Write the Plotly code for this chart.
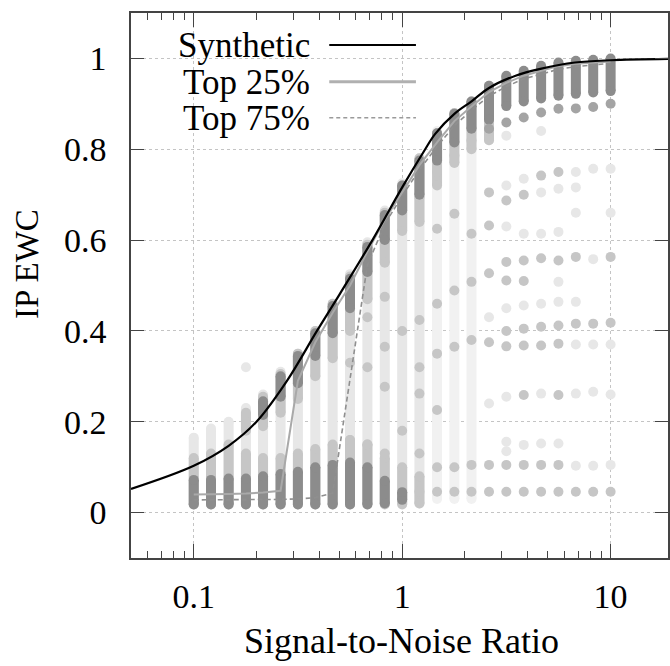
import math
import plotly.graph_objects as go

# ---------------- data ----------------
SNR = [0.1, 0.121, 0.147, 0.178, 0.215, 0.261, 0.316, 0.383, 0.464, 0.562, 0.681, 0.825,
       1.0, 1.21, 1.47, 1.78, 2.15, 2.61, 3.16, 3.83, 4.64, 5.62, 6.81, 8.25, 10.0]

SYN_X = [0.05, 0.1, 0.147, 0.2, 0.28, 0.39, 0.5, 0.72, 1.0, 1.27, 1.44, 1.78, 2.16, 2.61,
         3.5, 4.6, 6.75, 10.0, 20.0]
SYN_Y = [0.052, 0.103, 0.147, 0.200, 0.290, 0.400, 0.480, 0.600, 0.716, 0.795, 0.834, 0.878,
         0.906, 0.935, 0.962, 0.977, 0.991, 0.996, 0.999]

TOP25 = [0.040, 0.040, 0.041, 0.042, 0.044, 0.048, 0.290, 0.375, 0.440, 0.500, 0.575, 0.645,
         0.705, 0.765, 0.815, 0.862, 0.894, 0.926, 0.946, 0.962, 0.973, 0.983, 0.988, 0.991, 0.993]
TOP75 = [0.028, 0.028, 0.028, 0.028, 0.028, 0.029, 0.030, 0.033, 0.043, 0.290, 0.545, 0.635,
         0.697, 0.755, 0.806, 0.852, 0.886, 0.917, 0.938, 0.955, 0.966, 0.976, 0.982, 0.986, 0.989]

# extent of all trial results per SNR column (faint body)
BODY_LO = [0.02, 0.02, 0.02, 0.02, 0.02, 0.02, 0.02, 0.02, 0.02, 0.02, 0.02, 0.02, 0.02, 0.02,
           None, None, None, None, None, None, None, None, None, None, None]
BODY_HI = [0.165, 0.185, 0.20, 0.23, 0.26, 0.31, 0.35, 0.40, 0.46, 0.525, 0.595, 0.665, 0.725, 0.78,
           None, None, None, None, None, None, None, None, None, None, None]
SPARSE_LO = [None] * 14 + [0.03, 0.03, 0.03] + [None] * 8
SPARSE_HI = [None] * 14 + [0.84, 0.88, 0.905] + [None] * 8

# lower cluster (failed recoveries)
LOW_DARK_LO = [0.018, 0.018, 0.018, 0.018, 0.018, 0.018, 0.018, 0.018, 0.018, 0.018, 0.018, 0.02, 0.028,
               None, None, None, None, None, None, None, None, None, None, None, None]
LOW_DARK_HI = [0.072, 0.072, 0.075, 0.075, 0.08, 0.085, 0.09, 0.10, 0.105, 0.11, 0.10, 0.07, 0.045,
               None, None, None, None, None, None, None, None, None, None, None, None]
LOW_MID_LO = [0.018, 0.018, 0.018, 0.018, 0.018, 0.018, 0.018, 0.018, 0.018, 0.018, 0.018, 0.018, 0.018, 0.02,
              None, None, None, None, None, None, None, None, None, None, None]
LOW_MID_HI = [0.12, 0.13, 0.15, 0.13, 0.12, 0.12, 0.13, 0.14, 0.15, 0.16, 0.15, 0.12, 0.10, 0.08,
              None, None, None, None, None, None, None, None, None, None, None]

# upper cluster (successful recoveries)
UP_MID_LO = [None, None, None, 0.18, 0.19, 0.22, 0.25, 0.30, 0.34, 0.40, 0.47, 0.55, 0.62, 0.64,
             0.72, 0.77, 0.80, 0.82, None, None, None, None, None, None, None]
UP_MID_HI = [None, None, None, 0.22, 0.255, 0.305, 0.35, 0.40, 0.46, 0.52, 0.59, 0.66, 0.72, 0.78,
             0.835, 0.88, 0.905, 0.94, None, None, None, None, None, None, None]
UP_DARK_LO = [None, None, None, None, 0.215, 0.255, 0.285, 0.345, 0.395, 0.45, 0.53, 0.60, 0.665, 0.70,
              0.775, 0.815, 0.845, 0.865, 0.895, 0.905, 0.912, 0.918, 0.922, 0.925, 0.928]
UP_DARK_HI = [None, None, None, None, 0.245, 0.30, 0.345, 0.395, 0.455, 0.515, 0.585, 0.655, 0.72, 0.775,
              0.835, 0.878, 0.905, 0.94, 0.962, 0.973, 0.984, 0.991, 0.995, 0.997, 1.0]

# isolated trial results (column index, value)
DOT_DARK_K = [17, 18, 19, 20, 21, 22, 23, 24]
DOT_DARK_Y = [0.845, 0.859, 0.87, 0.881, 0.889, 0.89, 0.893, 0.90]

DOT_MID_K = [9, 9, 9, 10, 10, 10, 11, 11, 11, 11, 12, 12,
             13, 13, 13, 13, 13, 13, 14, 14, 14, 14, 14, 14, 14,
             15, 15, 15, 15, 15, 15, 16, 16, 16, 16, 16, 16,
             17, 17, 17, 17, 17, 17,
             18, 18, 18, 18, 18, 18, 18,
             19, 19, 19, 19, 19, 19, 19, 19,
             20, 20, 20, 20, 20, 20,
             21, 21, 21, 21, 21, 21, 21,
             22, 22, 22, 23, 23, 24, 24, 24]
DOT_MID_Y = [0.42, 0.33, 0.16, 0.43, 0.32, 0.15, 0.475, 0.365, 0.277, 0.13, 0.40, 0.18,
             0.695, 0.424, 0.32, 0.262, 0.13, 0.046, 0.75, 0.625, 0.46, 0.35, 0.226, 0.10, 0.046,
             0.786, 0.658, 0.489, 0.365, 0.10, 0.046, 0.819, 0.614, 0.508, 0.38, 0.105, 0.046,
             0.705, 0.632, 0.527, 0.375, 0.105, 0.046,
             0.687, 0.552, 0.511, 0.40, 0.366, 0.105, 0.046,
             0.70, 0.555, 0.51, 0.405, 0.368, 0.259, 0.105, 0.046,
             0.742, 0.56, 0.409, 0.368, 0.105, 0.046,
             0.75, 0.555, 0.412, 0.372, 0.259, 0.105, 0.046,
             0.563, 0.416, 0.046, 0.416, 0.046, 0.563, 0.418, 0.046]

DOT_LIGHT_K = [3, 17, 17, 17, 18, 18, 18, 18, 18, 18, 18, 19, 19, 19, 19,
               20, 20, 20, 20, 20, 20, 21, 21, 21, 21, 21,
               22, 22, 22, 22, 22, 22, 22, 23, 23, 23, 23, 23, 24, 24, 24, 24, 24]
DOT_LIGHT_Y = [0.32, 0.82, 0.43, 0.24, 0.83, 0.72, 0.63, 0.45, 0.255, 0.156, 0.135, 0.735, 0.614, 0.456, 0.149,
               0.84, 0.705, 0.614, 0.46, 0.262, 0.152, 0.713, 0.618, 0.508, 0.464, 0.152,
               0.75, 0.716, 0.66, 0.464, 0.37, 0.262, 0.103, 0.757, 0.558, 0.37, 0.266, 0.103,
               0.757, 0.66, 0.37, 0.26, 0.105]

X_TICKS = [0.1, 1, 10]
X_TICK_TEXT = ["0.1", "1", "10"]
X_MINOR = [0.06, 0.07, 0.08, 0.09, 0.2, 0.3, 0.4, 0.5, 0.6, 0.7, 0.8, 0.9,
           2, 3, 4, 5, 6, 7, 8, 9]
Y_TICKS = [0, 0.2, 0.4, 0.6, 0.8, 1]
Y_TICK_TEXT = ["0", "0.2", "0.4", "0.6", "0.8", "1"]

LEGEND_NAMES = ["Synthetic", "Top 25%", "Top 75%"]

# ---------------- style ----------------
FONT = "Liberation Serif, Times New Roman, serif"
DARK = "#8c8c8c"
MID = "#c6c6c6"
LIGHT = "#e7e7e7"
SPARSE = "#f1f1f1"
MSIZE = 10

fig = go.Figure()


def band(los, his, color):
    xs, ys = [], []
    for x, lo, hi in zip(SNR, los, his):
        if lo is None or hi is None:
            continue
        xs += [x, x, None]
        ys += [lo, hi, None]
    fig.add_trace(go.Scatter(x=xs, y=ys, mode="lines+markers",
                             line=dict(color=color, width=MSIZE),
                             marker=dict(color=color, size=MSIZE),
                             hoverinfo="skip", showlegend=False))


def dots(ks, ys, color):
    fig.add_trace(go.Scatter(x=[SNR[k] for k in ks], y=ys, mode="markers",
                             marker=dict(color=color, size=MSIZE),
                             hoverinfo="skip", showlegend=False))


band(BODY_LO, BODY_HI, LIGHT)
band(SPARSE_LO, SPARSE_HI, SPARSE)
dots(DOT_LIGHT_K, DOT_LIGHT_Y, LIGHT)
band(LOW_MID_LO, LOW_MID_HI, MID)
band(UP_MID_LO, UP_MID_HI, MID)
dots(DOT_MID_K, DOT_MID_Y, MID)
band(LOW_DARK_LO, LOW_DARK_HI, DARK)
band(UP_DARK_LO, UP_DARK_HI, DARK)
dots(DOT_DARK_K, DOT_DARK_Y, "#a4a4a4")

fig.add_trace(go.Scatter(x=SNR, y=TOP75, mode="lines", name=LEGEND_NAMES[2],
                         line=dict(color="#8f8f8f", width=1.6, dash="5px,3px"),
                         showlegend=False))
fig.add_trace(go.Scatter(x=SNR, y=TOP25, mode="lines", name=LEGEND_NAMES[1],
                         line=dict(color="#a9a9a9", width=2),
                         showlegend=False))
fig.add_trace(go.Scatter(x=SYN_X, y=SYN_Y, mode="lines", name=LEGEND_NAMES[0],
                         line=dict(color="black", width=2.2, shape="spline", smoothing=1.0),
                         showlegend=False))

W, H = 670, 666
ML, MR, MT, MB = 131, 0, 13, 108
PW, PH = W - ML - MR, H - MT - MB


def px_x(px):
    return (px - ML) / PW


def px_y(py):
    return (H - MB - py) / PH


# legend box (covers grid)
fig.add_shape(type="rect", xref="paper", yref="paper",
              x0=px_x(132), x1=px_x(434), y0=px_y(136), y1=px_y(14),
              fillcolor="white", line=dict(width=0), layer="between")

leg_rows = [45, 81.7, 117.7]
leg_styles = [dict(color="black", width=2.2),
              dict(color="#b0b0b0", width=3),
              dict(color="#9a9a9a", width=1.6, dash="4px,3px")]
for name, row, st in zip(LEGEND_NAMES, leg_rows, leg_styles):
    fig.add_annotation(text=name, xref="paper", yref="paper", x=px_x(313), y=px_y(row + 1),
                       xanchor="right", yanchor="middle", showarrow=False,
                       font=dict(family=FONT, size=35, color="black"))
    fig.add_shape(type="line", xref="paper", yref="paper", x0=px_x(330), x1=px_x(417),
                  y0=px_y(row), y1=px_y(row), line=st, layer="above")

fig.add_annotation(text="Signal-to-Noise Ratio", xref="paper", yref="paper",
                   x=px_x(403), y=px_y(641), xanchor="center", yanchor="middle",
                   showarrow=False, font=dict(family=FONT, size=36, color="black"))
fig.add_annotation(text="IP EWC", xref="paper", yref="paper", textangle=-90,
                   x=px_x(26), y=px_y(263.5), xanchor="center", yanchor="middle",
                   showarrow=False, font=dict(family=FONT, size=33, color="black"))

axis_common = dict(showline=True, linecolor="#444444", linewidth=1.5, mirror="allticks",
                   ticks="inside", tickcolor="#444444", tickwidth=1.3,
                   showgrid=True, gridcolor="#c4c4c4", gridwidth=1, griddash="dot",
                   zeroline=False, tickfont=dict(family=FONT, size=34, color="black"))

fig.update_xaxes(type="log", range=[math.log10(0.05), math.log10(18.85)],
                 tickvals=X_TICKS, ticktext=X_TICK_TEXT, ticklen=14, ticklabelstandoff=7,
                 minor=dict(tickvals=X_MINOR, ticks="inside", ticklen=7, tickcolor="#444444",
                            tickwidth=1.3, showgrid=False),
                 **axis_common)
fig.update_yaxes(range=[-0.1, 1.1], tickvals=Y_TICKS, ticktext=Y_TICK_TEXT, ticklen=13,
                 ticklabelstandoff=16, **axis_common)

fig.update_layout(width=W, height=H, margin=dict(l=ML, r=MR, t=MT, b=MB),
                  plot_bgcolor="white", paper_bgcolor="white", showlegend=False)

fig.write_html("out.html", config={"displayModeBar": False},
               post_script="document.body.style.margin='0';document.body.style.overflow='hidden';")
